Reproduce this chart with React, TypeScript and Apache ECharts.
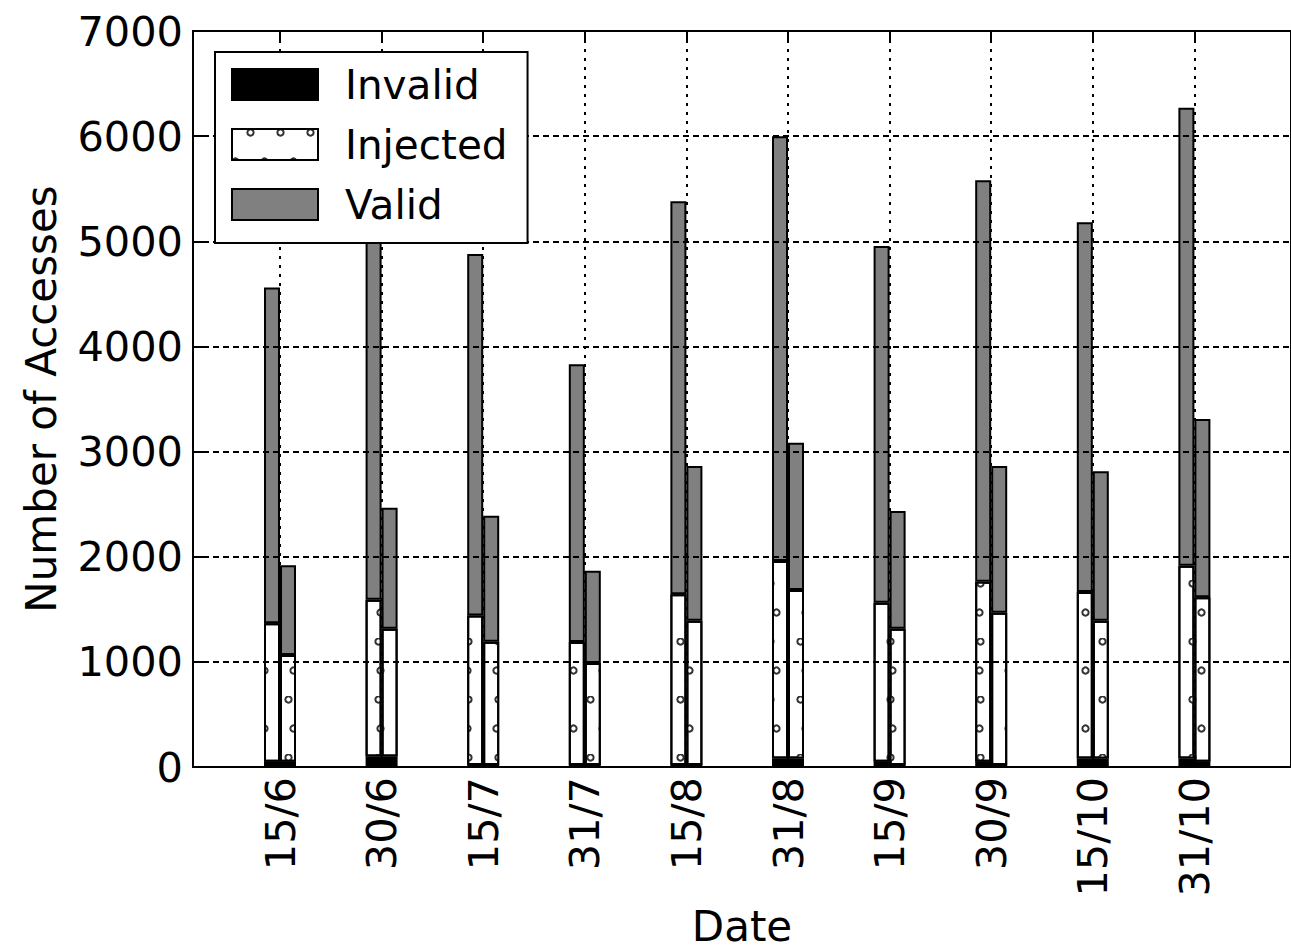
import React, { useEffect, useRef } from 'react';
import * as echarts from 'echarts';

const categories = ['15/6', '30/6', '15/7', '31/7', '15/8', '31/8', '15/9', '30/9', '15/10', '31/10'];

// left bar of each date
const invalidA = [50, 100, 20, 20, 20, 80, 50, 50, 80, 80];
const injectedA = [1317, 1490, 1420, 1170, 1623, 1880, 1513, 1712, 1584, 1835];
const validA = [3193, 3610, 3440, 2640, 3737, 4040, 3392, 3818, 3516, 4355];

// right bar of each date
const invalidB = [50, 100, 20, 20, 20, 80, 20, 20, 80, 50];
const injectedB = [1015, 1215, 1172, 969, 1371, 1603, 1295, 1448, 1311, 1564];
const validB = [855, 1150, 1198, 878, 1472, 1402, 1120, 1395, 1421, 1696];

const yMin = 0;
const yMax = 7000;
const yStep = 1000;

const FONT = 'DejaVu Sans';

export default function App() {
  const ref = useRef<HTMLDivElement>(null);

  useEffect(() => {
    if (!ref.current) return;
    const chart = echarts.init(ref.current, undefined, { renderer: 'svg' });

    const border = { borderColor: '#000', borderWidth: 2 };
    const dotDecal = {
      symbol: 'emptyCircle',
      symbolSize: 0.9,
      color: '#333',
      dashArrayX: [[7, 22], [0, 14.5, 7, 7.5]],
      dashArrayY: [7, 22],
    };

    const mk = (name: string, stack: string, data: number[], style: any) => ({
      name,
      type: 'bar',
      stack,
      xAxisIndex: 1,
      yAxisIndex: 1,
      barWidth: 16,
      barGap: '0%',
      data,
      itemStyle: { ...border, ...style },
      emphasis: { disabled: true },
    });

    const tickStyle = { color: '#000', width: 2 };
    const tickTxt = { fontFamily: FONT, fontSize: 41.5, color: '#000' };
    const nameTxt = { fontFamily: FONT, fontSize: 42, color: '#000' };

    chart.setOption({
      animation: false,
      textStyle: { fontFamily: FONT },
      grid: [
        { left: 193, right: -18, top: 31, bottom: 185, show: true, borderColor: '#000', borderWidth: 2, backgroundColor: 'transparent' },
        { left: 229.2, right: 45.8, top: 31, bottom: 185 },
      ],
      legend: {
        orient: 'vertical',
        left: 215,
        top: 52,
        itemWidth: 86,
        itemHeight: 31,
        itemGap: 19,
        padding: [12, 20, 18, 16],
        borderColor: '#000',
        borderWidth: 2,
        borderRadius: 0,
        backgroundColor: '#fff',
        icon: 'rect',
        selectedMode: false,
        z: 10,
        textStyle: { fontFamily: FONT, fontSize: 40.5, color: '#000', padding: [0, 0, 0, 22] },
        data: ['Invalid', 'Injected', 'Valid'],
      },
      xAxis: [
        {
          type: 'value',
          gridIndex: 0,
          min: 0,
          max: 1,
          axisLine: { show: false },
          axisTick: { show: false },
          axisLabel: { show: false },
          splitLine: { show: false },
          name: 'Date',
          nameLocation: 'middle',
          nameGap: 138,
          nameTextStyle: nameTxt,
        },
        {
          type: 'category',
          gridIndex: 1,
          position: 'bottom',
          data: categories,
          axisLine: { show: false },
          axisTick: { show: true, inside: true, alignWithLabel: true, length: 12, lineStyle: tickStyle },
          axisLabel: { ...tickTxt, rotate: 90, interval: 0, margin: 10, padding: [0, 0, 14, 0] },
          splitLine: { show: true, interval: 0, alignWithLabel: true, lineStyle: { color: '#000', width: 2, type: [3, 6] } },
        },
        {
          type: 'category',
          gridIndex: 1,
          position: 'top',
          data: categories,
          axisLine: { show: false },
          axisTick: { show: true, inside: true, alignWithLabel: true, length: 12, lineStyle: tickStyle },
          axisLabel: { show: false },
          splitLine: { show: false },
        },
      ],
      yAxis: [
        {
          type: 'value',
          gridIndex: 0,
          min: yMin,
          max: yMax,
          interval: yStep,
          z: 3,
          axisLine: { show: true, lineStyle: tickStyle },
          axisTick: { show: true, inside: true, length: 12, lineStyle: tickStyle },
          axisLabel: { ...tickTxt, margin: 10, formatter: (v: number) => String(v) },
          splitLine: { show: true, lineStyle: { color: '#000', width: 2, type: [6, 4] } },
          name: 'Number of Accesses',
          nameLocation: 'middle',
          nameGap: 131,
          nameTextStyle: nameTxt,
        },
        {
          type: 'value',
          gridIndex: 1,
          min: yMin,
          max: yMax,
          interval: yStep,
          show: false,
          splitLine: { show: false },
        },
      ],
      series: [
        mk('Invalid', 'A', invalidA, { color: '#000', decal: 'none' }),
        mk('Injected', 'A', injectedA, { color: '#fff', decal: dotDecal }),
        mk('Valid', 'A', validA, { color: '#808080', decal: 'none' }),
        mk('Invalid', 'B', invalidB, { color: '#000', decal: 'none' }),
        mk('Injected', 'B', injectedB, { color: '#fff', decal: dotDecal }),
        mk('Valid', 'B', validB, { color: '#808080', decal: 'none' }),
      ],
    });

    return () => chart.dispose();
  }, []);

  return (
    <div
      ref={ref}
      style={{ position: 'absolute', left: 0, top: 0, width: 1291, height: 952, overflow: 'hidden' }}
    />
  );
}
